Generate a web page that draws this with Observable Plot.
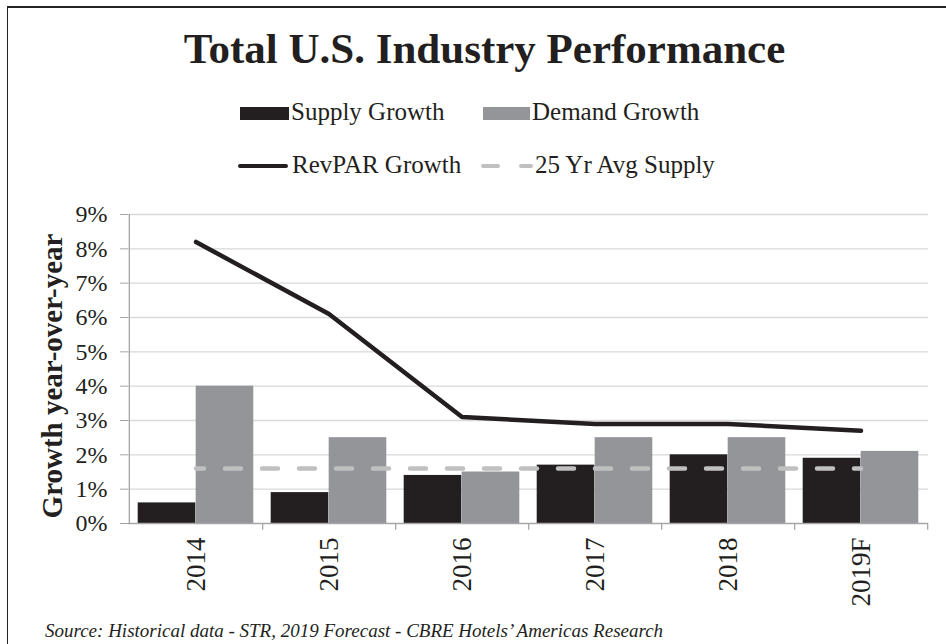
<!DOCTYPE html>
<html><head><meta charset="utf-8">
<script src="https://cdn.jsdelivr.net/npm/d3@7"></script>
<script src="https://cdn.jsdelivr.net/npm/@observablehq/plot@0.6"></script>
<style>
html,body{margin:0;padding:0;background:#fff;}
#wrap{position:relative;width:946px;height:644px;overflow:hidden;font-family:"Liberation Serif","Times New Roman",serif;color:#231f20;}
#chart{position:absolute;left:0;top:0;}
.border{position:absolute;left:7px;top:6px;width:980px;height:700px;border-left:1.5px solid #222;border-top:2px solid #222;}
.title{position:absolute;left:0;width:969px;top:27.3px;text-align:center;font-size:43px;line-height:43px;font-weight:bold;white-space:nowrap;}
.leg{position:absolute;font-size:25px;line-height:25px;white-space:nowrap;}
.sw{position:absolute;}
.caption{position:absolute;left:45px;top:621.4px;font-style:italic;font-size:19px;line-height:19px;white-space:nowrap;}
#chart g[aria-label="y-axis"] .tick line, #chart g[aria-label="y-axis tick"]{stroke:#a6a6a6;}
#chart g[aria-label="x-axis"] text, #chart g[aria-label="x-axis tick label"] text{font-size:27px;}
</style>
</head><body>
<div id="wrap">
  <div id="chart"></div>
  <div class="border"></div>
  <div class="title" id="title"></div>
  <div id="legend"></div>
  <div class="caption" id="caption"></div>
</div>
<script>
// ---- data ----
const years = ["2014", "2015", "2016", "2017", "2018", "2019F"];
const supplyGrowth = [0.6, 0.9, 1.4, 1.7, 2.0, 1.9];
const demandGrowth = [4.0, 2.5, 1.5, 2.5, 2.5, 2.1];
const revparGrowth = [8.2, 6.1, 3.1, 2.9, 2.9, 2.7];
const avgSupply = 1.6;
const yTicks = [0, 1, 2, 3, 4, 5, 6, 7, 8, 9];
const titleText = "Total U.S. Industry Performance";
const yLabel = "Growth year-over-year";
const seriesNames = ["Supply Growth", "Demand Growth", "RevPAR Growth", "25 Yr Avg Supply"];
const captionText = "Source: Historical data - STR, 2019 Forecast - CBRE Hotels\u2019 Americas Research";

// ---- colours / layout ----
const cSupply = "#231f20", cDemand = "#939598", cRev = "#231f20", cAvg = "#c0c0c0";
const W = 946, H = 644, mL = 128, mR = 18, mT = 214, mB = 121;
const bw = (W - mL - mR) / years.length;
const pad = 8.7;

const rows = years.map((y, i) => ({year: y, supply: supplyGrowth[i], demand: demandGrowth[i], revpar: revparGrowth[i], avg: avgSupply}));

const chart = Plot.plot({
  width: W, height: H,
  marginLeft: mL, marginRight: mR, marginTop: mT, marginBottom: mB,
  style: {fontFamily: "'Liberation Serif','Times New Roman',serif", fontSize: "24px", color: "#231f20", background: "transparent", overflow: "visible"},
  x: {domain: years, padding: 0, tickSize: 0, tickPadding: 14, tickRotate: -90, label: null},
  y: {domain: [0, 9], ticks: yTicks, tickFormat: d => d + "%", tickSize: 8, tickPadding: 13, label: null},
  marks: [
    Plot.ruleY(yTicks.filter(d => d > 0), {stroke: "#d9d9d9", strokeWidth: 1.3}),
    Plot.barY(rows, {x: "year", y: "supply", fill: cSupply, insetLeft: pad, insetRight: bw / 2}),
    Plot.barY(rows, {x: "year", y: "demand", fill: cDemand, insetLeft: bw / 2, insetRight: pad}),
    Plot.ruleY([0], {stroke: "#a6a6a6", strokeWidth: 1.3}),
    Plot.ruleX([years[0]], {y1: 0, y2: 9, dx: -bw / 2, stroke: "#a6a6a6", strokeWidth: 1.3}),
    Plot.ruleX(years, {y1: 0, y2: -0.2, dx: bw / 2, stroke: "#a6a6a6", strokeWidth: 1.3}),
    Plot.lineY(rows, {x: "year", y: "avg", stroke: cAvg, strokeWidth: 4.5, strokeDasharray: "16,21", strokeDashoffset: 8, strokeLinecap: "round"}),
    Plot.lineY(rows, {x: "year", y: "revpar", stroke: cRev, strokeWidth: 4.5, strokeLinecap: "round"}),
    Plot.text([yLabel], {frameAnchor: "left", textAnchor: "middle", rotate: -90, dx: -76, dy: 7, fontWeight: "bold", fontSize: 29, fill: "#231f20"})
  ]
});
document.getElementById("chart").appendChild(chart);

document.getElementById("title").textContent = titleText;
document.getElementById("caption").textContent = captionText;

// ---- legend (HTML) ----
const legend = document.getElementById("legend");
function add(cls, styles, text) {
  const d = document.createElement("div");
  d.className = cls;
  Object.assign(d.style, styles);
  if (text) d.textContent = text;
  legend.appendChild(d);
}
add("sw", {left: "240px", top: "107px", width: "49px", height: "13px", background: cSupply});
add("leg", {left: "291px", top: "98.6px"}, seriesNames[0]);
add("sw", {left: "483px", top: "107px", width: "47px", height: "13px", background: cDemand});
add("leg", {left: "532px", top: "98.6px"}, seriesNames[1]);
add("sw", {left: "238px", top: "163.5px", width: "50px", height: "4.5px", background: cRev, borderRadius: "2px"});
add("leg", {left: "292px", top: "151.6px"}, seriesNames[2]);
add("sw", {left: "481px", top: "163.5px", width: "19px", height: "4.5px", background: cAvg, borderRadius: "2.25px"});
add("sw", {left: "519px", top: "163.5px", width: "14px", height: "4.5px", background: cAvg, borderRadius: "2.25px"});
add("leg", {left: "535px", top: "151.6px"}, seriesNames[3]);
</script>
</body></html>
